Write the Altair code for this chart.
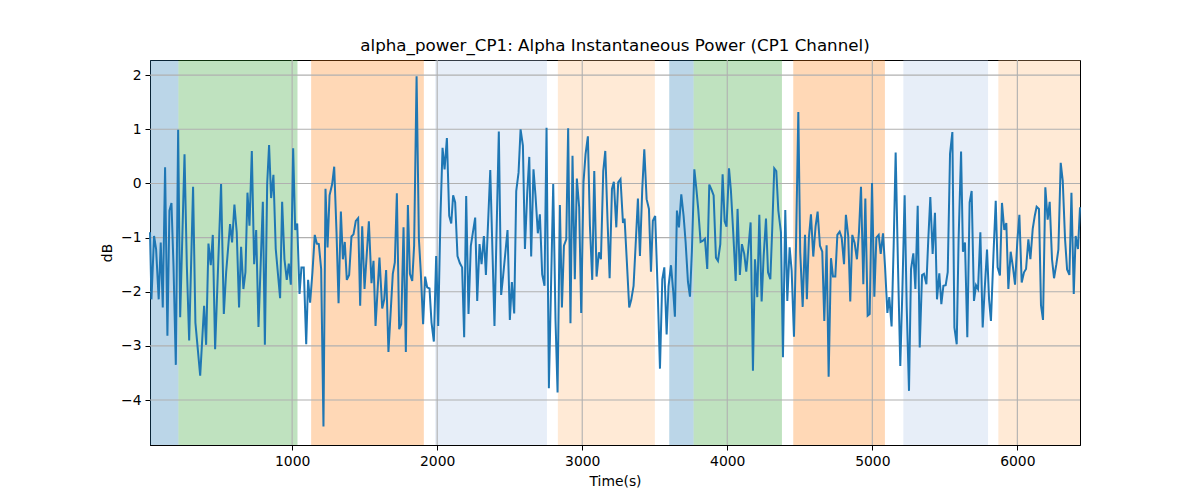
import altair as alt
import pandas as pd

times = [20, 30, 48, 62, 80, 94, 108, 124, 140, 154, 168, 182, 198, 214, 228, 258, 274, 290, 317, 333,
         366, 393, 407, 423, 439, 453, 469, 510, 529, 545, 572, 586, 602, 618, 634, 648, 664, 678, 692, 706,
         722, 738, 752, 768, 798, 812, 828, 841, 855, 871, 887, 917, 931, 947, 963, 977, 991, 1007, 1021, 1035,
         1051, 1064, 1080, 1097, 1110, 1124, 1140, 1156, 1170, 1184, 1200, 1216, 1230, 1244, 1258, 1276, 1290, 1306, 1320, 1336,
         1350, 1363, 1377, 1393, 1409, 1423, 1439, 1455, 1469, 1483, 1499, 1529, 1547, 1561, 1575, 1602, 1621, 1635, 1648, 1664,
         1694, 1708, 1722, 1738, 1752, 1768, 1784, 1798, 1812, 1828, 1841, 1858, 1874, 1887, 1903, 1917, 1931, 1947, 1961, 1977,
         1993, 2007, 2023, 2037, 2051, 2067, 2083, 2097, 2110, 2124, 2140, 2156, 2172, 2186, 2200, 2216, 2232, 2262, 2276, 2292,
         2306, 2322, 2336, 2366, 2395, 2425, 2441, 2455, 2485, 2501, 2515, 2531, 2545, 2561, 2575, 2591, 2605, 2621, 2635, 2648,
         2664, 2678, 2694, 2708, 2724, 2740, 2754, 2770, 2800, 2816, 2830, 2846, 2860, 2874, 2890, 2903, 2919, 2933, 2949, 2963,
         2979, 2993, 3009, 3023, 3039, 3053, 3069, 3083, 3099, 3115, 3129, 3145, 3159, 3175, 3189, 3205, 3218, 3235, 3248, 3264,
         3281, 3292, 3308, 3324, 3338, 3354, 3368, 3384, 3398, 3414, 3428, 3444, 3460, 3474, 3487, 3503, 3520, 3536, 3552, 3566,
         3582, 3595, 3612, 3628, 3639, 3653, 3667, 3683, 3699, 3713, 3729, 3743, 3756, 3773, 3786, 3800, 3816, 3830, 3846, 3862,
         3876, 3892, 3906, 3922, 3936, 3952, 3968, 3982, 3995, 4012, 4025, 4041, 4058, 4071, 4087, 4101, 4117, 4131, 4147, 4161,
         4177, 4191, 4207, 4221, 4237, 4251, 4267, 4281, 4297, 4310, 4324, 4338, 4352, 4370, 4384, 4400, 4414, 4430, 4444, 4460,
         4474, 4490, 4503, 4520, 4536, 4549, 4563, 4577, 4593, 4609, 4623, 4639, 4655, 4669, 4685, 4699, 4715, 4729, 4745, 4759,
         4775, 4789, 4805, 4818, 4834, 4848, 4862, 4878, 4894, 4908, 4922, 4938, 4952, 4968, 4982, 4998, 5014, 5028, 5044, 5058,
         5074, 5088, 5104, 5117, 5133, 5147, 5161, 5177, 5193, 5207, 5223, 5237, 5253, 5267, 5283, 5297, 5313, 5327, 5343, 5356,
         5373, 5386, 5400, 5416, 5432, 5446, 5462, 5476, 5490, 5506, 5520, 5536, 5552, 5566, 5582, 5595, 5612, 5625, 5639, 5655,
         5671, 5685, 5701, 5715, 5729, 5745, 5761, 5775, 5791, 5805, 5818, 5835, 5851, 5864, 5880, 5894, 5910, 5924, 5938, 5954,
         5970, 5984, 6000, 6014, 6030, 6046, 6060, 6076, 6090, 6106, 6120, 6133, 6149, 6163, 6177, 6193, 6209, 6223, 6239, 6253,
         6269, 6283, 6299, 6313, 6329, 6343, 6359, 6373, 6389, 6402, 6418, 6432]

power_db = [-0.90, -2.14, -0.97, -1.21, -2.14, -1.09, -2.29, 0.30, -2.81, -0.50, -0.36, -1.52, -3.35, 0.99, -2.47, 0.54, -1.52, -2.90, -0.06, -2.57,
            -3.55, -2.26, -2.98, -1.11, -1.51, -0.95, -3.06, -0.01, -2.41, -1.64, -0.75, -1.09, -0.39, -0.90, -2.29, -1.17, -1.95, -1.64, -0.17, -0.78,
            0.60, -1.49, -0.86, -2.65, -0.34, -2.98, 0.00, 0.71, -0.27, 0.16, -1.21, -2.12, -0.34, -1.40, -1.78, -1.48, -1.87, 0.65, -0.86, -0.74,
            -2.04, -1.55, -1.55, -2.97, -1.78, -2.20, -1.64, -0.95, -1.11, -1.12, -1.58, -4.49, -0.10, -1.18, -0.22, -0.01, 0.31, -0.90, -2.21, -0.52,
            -1.40, -1.08, -1.78, -1.69, -0.98, -0.94, -0.69, -0.64, -2.26, -0.79, -1.95, -0.70, -1.84, -1.43, -2.63, -1.37, -2.31, -2.14, -1.60, -3.11,
            -1.67, -1.46, -0.18, -2.69, -2.60, -0.81, -3.11, -0.40, -1.67, -1.80, -1.15, 1.98, -1.03, -1.64, -2.60, -1.72, -1.92, -1.94, -2.57, -2.92,
            -1.34, -2.63, -0.57, 0.66, 0.26, 0.84, -0.60, -0.74, -0.22, -0.35, -1.34, -1.47, -1.55, -2.84, -0.23, -2.41, -1.15, -0.63, -2.17, -1.12,
            -1.49, -0.97, -1.69, 0.25, -2.63, 0.96, -2.06, -1.70, -0.86, -2.52, -1.82, -2.40, -0.14, 0.20, 1.00, 0.70, -1.21, -0.17, 0.49, -1.35,
            0.26, -0.23, -0.92, -0.57, -1.68, -1.89, 1.03, -3.78, -0.01, -2.54, -3.86, -0.40, -2.29, -1.15, -1.03, 1.02, -2.58, 0.51, -1.77, 0.09,
            -0.44, -2.39, 0.03, 0.54, 0.87, -0.78, -1.78, 0.23, -1.72, -1.27, -1.40, 0.23, 0.60, -0.72, -1.75, -0.10, 0.03, -0.81, 0.02, 0.08,
            -0.73, -0.65, -1.46, -2.29, -2.15, -1.89, -1.15, -0.28, -1.34, -0.10, 0.63, -0.29, -0.47, -1.63, -0.69, -0.60, -1.95, -3.42, -1.77, -1.55,
            -2.79, -1.90, -1.51, -2.01, -2.46, -0.50, -0.81, -0.20, -0.60, -1.09, -1.82, -2.09, -1.26, 0.26, -0.07, -0.48, -1.08, -1.06, -1.02, -1.58,
            -0.02, -0.12, -0.22, -1.37, -1.43, -1.12, 0.17, -0.70, -0.80, 0.28, -0.12, -0.90, -1.80, -0.47, -1.69, -1.12, -1.30, -1.63, -1.15, -0.72,
            -3.46, -1.40, -2.10, -0.58, -2.18, -1.34, -0.65, -1.64, -1.77, -0.84, 0.28, 0.23, -0.50, -0.90, -3.21, -0.49, -2.17, -1.18, -1.61, -2.83,
            -1.15, 1.32, -1.27, -2.28, -0.95, -2.14, -1.00, -0.57, -1.35, -0.79, -0.52, -1.15, -1.26, -2.54, -1.14, -3.57, -1.38, -1.72, -1.72, -0.95,
            -0.89, -1.00, -1.49, -0.58, -0.97, -2.18, -0.95, -1.10, -1.40, -0.90, -0.06, -1.86, -0.28, -2.44, -2.41, 0.01, -2.09, -1.00, -0.95, -1.30,
            -0.92, -1.55, -2.39, -2.10, -2.64, -1.18, 0.57, -1.51, -3.37, -2.01, -0.22, -2.26, -3.83, -1.58, -1.29, -1.95, -0.41, -3.03, -1.69, -1.67,
            -1.86, -1.03, -0.25, -1.30, -0.54, -2.14, -1.66, -2.23, -1.89, -1.88, -1.64, 0.55, 0.95, -2.66, -2.97, -1.03, 0.59, -1.26, -1.09, -2.84,
            -0.35, -0.14, -2.17, -1.88, -1.95, -0.90, -2.66, -1.95, -1.22, -2.14, -2.54, -1.34, -0.32, -1.55, -1.70, -0.36, -0.86, -0.73, -1.95, -1.26,
            -1.55, -1.87, -1.06, -0.58, -1.83, -1.64, -1.58, -1.03, -1.40, -0.84, -0.60, -0.43, -0.47, -2.25, -2.52, -0.07, -0.67, -0.34, -1.40, -1.75,
            -1.49, -1.22, 0.38, 0.05, -1.03, -1.59, -1.69, -0.17, -2.04, -0.97, -1.21, -0.44]

span_start = [20, 216, 1131, 1986, 2832, 3600, 3768, 4455, 5214, 5869]
span_end = [216, 1037, 1908, 2757, 3501, 3768, 4377, 5087, 5798, 6432]
span_color = ["#1f77b4", "#2ca02c", "#ff7f0e", "#aec7e8", "#ffbb78",
              "#1f77b4", "#2ca02c", "#ff7f0e", "#aec7e8", "#ffbb78"]

x_ticks = [1000, 2000, 3000, 4000, 5000, 6000]
y_ticks = [-4, -3, -2, -1, 0, 1, 2]

line_df = pd.DataFrame({"t": times, "v": power_db})
span_df = pd.DataFrame({"start": span_start, "end": span_end, "color": span_color})
xgrid_df = pd.DataFrame({"gx": x_ticks})
ygrid_df = pd.DataFrame({"gy": y_ticks})

x_scale = alt.Scale(domain=[20, 6432], nice=False, zero=False)
y_scale = alt.Scale(domain=[-4.83, 2.28], nice=False, zero=False)

FONT = "DejaVu Sans"
GRID = "#b0b0b0"

spans = alt.Chart(span_df).mark_rect(opacity=0.3).encode(
    x=alt.X("start:Q", scale=x_scale,
            axis=alt.Axis(values=x_ticks, format="d", title="Time(s)", grid=False)),
    x2="end:Q",
    y=alt.value(0),
    y2=alt.value(385),
    color=alt.Color("color:N", scale=None),
)

xgrid = alt.Chart(xgrid_df).mark_rule(color=GRID, strokeWidth=1.1).encode(
    x=alt.X("gx:Q", scale=x_scale),
)

ygrid = alt.Chart(ygrid_df).mark_rule(color=GRID, strokeWidth=1.1).encode(
    y=alt.Y("gy:Q", scale=y_scale),
)

line = alt.Chart(line_df).mark_line(color="#1f77b4", strokeWidth=2).encode(
    x=alt.X("t:Q", scale=x_scale),
    y=alt.Y("v:Q", scale=y_scale,
            axis=alt.Axis(values=y_ticks, format="d", title="dB", grid=False)),
)

chart = alt.layer(spans, xgrid, ygrid, line).properties(
    width=930,
    height=385,
    title=alt.TitleParams("alpha_power_CP1: Alpha Instantaneous Power (CP1 Channel)",
                          fontSize=16.7, fontWeight="normal", font=FONT, color="black", offset=5),
    autosize=alt.AutoSizeParams(type="none"),
    padding={"left": 142, "top": 52, "right": 100, "bottom": 50},
).configure_view(
    stroke="black", strokeWidth=1
).configure_axis(
    labelFont=FONT, titleFont=FONT, labelFontSize=13.9, titleFontSize=13.9,
    titleFontWeight="normal", labelColor="black", titleColor="black",
    tickColor="black", tickSize=5, domainColor="black", domainWidth=1,
    labelPadding=4,
).configure_axisX(
    titlePadding=7,
).configure_axisY(
    titlePadding=6,
)

chart.save("out.html", embed_options={"renderer": "svg", "actions": False})
